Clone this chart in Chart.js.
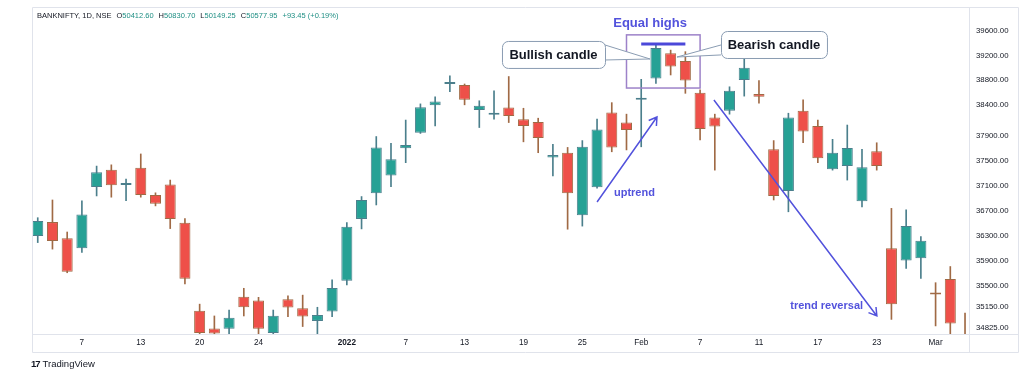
<!DOCTYPE html>
<html>
<head>
<meta charset="utf-8">
<script src="https://cdn.jsdelivr.net/npm/chart.js@4.4.1/dist/chart.umd.min.js"></script>
<style>
  html, body { margin: 0; padding: 0; background: #fff; }
  #wrap { position: relative; width: 1024px; height: 374px; }
  #header {
    position: absolute; left: 37px; top: 11px;
    font: 7.5px "Liberation Sans", Arial, sans-serif; color: #131722; white-space: nowrap;
  }
  #header span { margin-left: 5px; }
  #header b { font-weight: normal; color: #1f8f84; }
  #logo {
    position: absolute; left: 31px; top: 358px;
    font: 9.5px "Liberation Sans", Arial, sans-serif; color: #131722; white-space: nowrap;
  }
  #logo i { font-style: normal; font-weight: bold; letter-spacing: -1px; margin-right: 3px; }
</style>
</head>
<body>
<div id="wrap">
  <canvas id="grafico" width="1024" height="374"></canvas>
  <div id="header">BANKNIFTY, 1D, NSE<span>O<b>50412.60</b></span><span>H<b>50830.70</b></span><span>L<b>50149.25</b></span><span>C<b>50577.95</b></span><span><b>+93.45 (+0.19%)</b></span></div>
  <div id="logo"><i>17</i>TradingView</div>
</div>
<script>
// Velas diárias (dez/2021 a mar/2022)
const aberturas = [36295, 36520, 36260, 36100, 37085, 37360, 37115, 37395, 36955, 37125, 36510,
  35095, 34810, 34805, 35320, 35260, 34735, 35280, 35135, 34930, 35080, 35575, 36570, 36985, 37270,
  37705, 37955, 38400, 38740, 38725, 38320, 38245, 38360, 38175, 38130, 37560, 37635, 36630, 37080,
  38280, 38120, 38485, 38830, 39235, 39110, 38600, 38200, 38310, 38805, 38580, 37690, 37020, 38310,
  38065, 37370, 37420, 36855, 37660, 36100, 35900, 35940, 35370, 35605, 34655];
const maximas = [36590, 36875, 36360, 36860, 37420, 37440, 37210, 37615, 36990, 37195, 36575,
  35200, 35010, 35105, 35455, 35310, 35105, 35335, 35345, 35150, 35590, 36510, 36930, 37895, 37785,
  38160, 38420, 38535, 38870, 38740, 38470, 38630, 38860, 38350, 38190, 37770, 37720, 37830, 38175,
  38440, 38255, 38815, 39365, 39285, 39260, 38645, 38255, 38695, 39190, 38795, 37830, 38270, 38485,
  38160, 37850, 38080, 37690, 37795, 36740, 36715, 36285, 35545, 35805, 35055];
const minimas = [36190, 36085, 35705, 36030, 36940, 36920, 36865, 36920, 36780, 36415, 35525,
  34690, 34690, 34720, 35010, 34710, 34690, 35000, 34840, 34700, 35000, 35510, 36410, 36795, 37090,
  37475, 37945, 38065, 38615, 38405, 38040, 38175, 38120, 37810, 37635, 37260, 36405, 36455, 37065,
  37650, 37680, 37730, 38750, 38885, 38590, 37840, 37355, 38255, 38545, 38430, 36875, 36685, 37795,
  37475, 37355, 37195, 36765, 37355, 34955, 35775, 35615, 34850, 34700, 34550];
const fechamentos = [36535, 36215, 35720, 36640, 37320, 37110, 37145, 36955, 36815, 36570, 35610,
  34735, 34730, 34980, 35150, 34805, 35015, 35145, 35000, 35025, 35460, 36445, 36875, 37720, 37530,
  37760, 38365, 38460, 38755, 38485, 38390, 38260, 38225, 38065, 37870, 37600, 36985, 37730, 38010,
  37720, 38000, 38520, 39320, 39020, 38795, 38015, 38055, 38630, 39000, 38535, 36940, 38200, 37975,
  37545, 37635, 37710, 37400, 37420, 35200, 36455, 36220, 35355, 34890, 34590];

// Rótulos do eixo X (posição = índice da vela)
const posRotulosX = [3, 7, 11, 15, 21, 25, 29, 33, 37, 41, 45, 49, 53, 57, 61];
const rotulosX = ['7', '13', '20', '24', '2022', '7', '13', '19', '25', 'Feb', '7', '11', '17', '23', 'Mar'];
// Rótulos do eixo de preço
const valoresY = [40000, 39600, 39200, 38800, 38400, 37900, 37500, 37100, 36700, 36300, 35900, 35500, 35150, 34825];

const corAlta = '#26a195', bordaAlta = '#4b7f8c';
const corBaixa = '#ee5049', bordaBaixa = '#a06a45';
const corNota = '#5252dc';
const fonte = '"Liberation Sans", Arial, sans-serif';

const indices = aberturas.map((_, i) => i);
const subiu = i => fechamentos[i] >= aberturas[i];

// Desenha setas, caixas e balões de texto (ancorados nas escalas)
const anotacoes = {
  id: 'anotacoes',
  afterDatasetsDraw(chart) {
    const { ctx } = chart;
    const sx = chart.scales.x, sy = chart.scales.y;
    const px = i => sx.getPixelForValue(i);
    const py = v => sy.getPixelForValue(v);

    ctx.save();

    // caixa das máximas iguais
    ctx.strokeStyle = '#9d82c9';
    ctx.lineWidth = 1.5;
    ctx.strokeRect(px(40), py(39530), px(45) - px(40), py(38675) - py(39530));

    // linha das máximas iguais
    ctx.strokeStyle = '#4b48d9';
    ctx.lineWidth = 3;
    ctx.beginPath();
    ctx.moveTo(px(41), py(39385));
    ctx.lineTo(px(44), py(39385));
    ctx.stroke();

    ctx.fillStyle = corNota;
    ctx.font = 'bold 13px ' + fonte;
    ctx.textAlign = 'center';
    ctx.textBaseline = 'middle';
    ctx.fillText('Equal highs', px(41.6), py(39720));

    // setas
    seta(ctx, px(38.0), py(36843), px(42.07), py(38210));
    seta(ctx, px(45.94), py(38483), px(57.01), py(35010));

    ctx.fillStyle = corNota;
    ctx.font = 'bold 11px ' + fonte;
    ctx.textAlign = 'left';
    ctx.fillText('uptrend', px(39.15), py(36988));
    ctx.textAlign = 'center';
    ctx.fillText('trend reversal', px(53.6), py(35175));

    // balões
    balao(ctx, 'Bullish candle', px(31.54), py(39432), px(38.54), py(38998),
      [px(38.54), py(39367)], [px(41.6), py(39142)], [px(38.54), py(39126)]);
    balao(ctx, 'Bearish candle', px(46.42), py(39592), px(53.62), py(39158),
      [px(46.42), py(39367)], [px(43.43), py(39174)], [px(46.42), py(39207)]);

    ctx.restore();
  },
  afterDraw(chart) {
    const { ctx, chartArea } = chart;
    const sx = chart.scales.x, sy = chart.scales.y;
    ctx.save();
    // corta o rótulo de cima como no original
    ctx.fillStyle = '#fff';
    ctx.fillRect(chartArea.right + 1, 0, chart.width - chartArea.right, chartArea.top);
    // moldura
    ctx.strokeStyle = '#e0e3eb';
    ctx.lineWidth = 1;
    ctx.beginPath();
    ctx.rect(chartArea.left + 0.5, chartArea.top + 0.5, sy.right - chartArea.left, sx.bottom - chartArea.top);
    ctx.moveTo(chartArea.left, chartArea.bottom + 0.5);
    ctx.lineTo(sy.right, chartArea.bottom + 0.5);
    ctx.moveTo(chartArea.right + 0.5, chartArea.top);
    ctx.lineTo(chartArea.right + 0.5, sx.bottom);
    ctx.stroke();
    ctx.restore();
  }
};

function seta(ctx, x0, y0, x1, y1) {
  const ang = Math.atan2(y0 - y1, x0 - x1);
  const tam = 9, abre = 0.55;
  ctx.strokeStyle = corNota;
  ctx.lineWidth = 1.5;
  ctx.beginPath();
  ctx.moveTo(x0, y0);
  ctx.lineTo(x1, y1);
  ctx.moveTo(x1 + tam * Math.cos(ang - abre), y1 + tam * Math.sin(ang - abre));
  ctx.lineTo(x1, y1);
  ctx.lineTo(x1 + tam * Math.cos(ang + abre), y1 + tam * Math.sin(ang + abre));
  ctx.stroke();
}

function balao(ctx, texto, x0, y0, x1, y1, a, ponta, b) {
  ctx.strokeStyle = '#8a9cb2';
  ctx.lineWidth = 1;
  ctx.fillStyle = '#fff';
  // rabicho
  ctx.beginPath();
  ctx.moveTo(a[0], a[1]);
  ctx.lineTo(ponta[0], ponta[1]);
  ctx.lineTo(b[0], b[1]);
  ctx.fill();
  ctx.stroke();
  // caixa
  ctx.beginPath();
  ctx.roundRect(x0 + 0.5, y0 + 0.5, x1 - x0, y1 - y0, 6);
  ctx.fill();
  ctx.stroke();
  ctx.fillStyle = '#131722';
  ctx.font = 'bold 13px ' + fonte;
  ctx.textAlign = 'center';
  ctx.textBaseline = 'middle';
  ctx.fillText(texto, (x0 + x1) / 2, (y0 + y1) / 2 + 1);
}

window.addEventListener('DOMContentLoaded', () => {
  new Chart(document.getElementById('grafico'), {
    type: 'bar',
    data: {
      datasets: [{
        // pavios
        data: indices.map(i => ({ x: i, y: [minimas[i], maximas[i]] })),
        backgroundColor: indices.map(i => subiu(i) ? bordaAlta : bordaBaixa),
        barThickness: 1,
        grouped: false,
        clip: 0,
        order: 2
      }, {
        // corpos
        data: indices.map(i => ({ x: i, y: [aberturas[i], fechamentos[i]] })),
        backgroundColor: indices.map(i => subiu(i) ? corAlta : corBaixa),
        borderColor: indices.map(i => subiu(i) ? bordaAlta : bordaBaixa),
        borderWidth: 1,
        borderSkipped: false,
        barPercentage: 0.75,
        categoryPercentage: 1,
        minBarLength: 2,
        grouped: false,
        clip: 0,
        order: 1
      }]
    },
    options: {
      responsive: false,
      animation: false,
      devicePixelRatio: 1,
      layout: { padding: { left: 32, top: 7, right: 6, bottom: 22 } },
      plugins: { legend: { display: false }, tooltip: { enabled: false } },
      scales: {
        x: {
          type: 'linear',
          offset: false,
          min: -0.39,
          max: 63.27,
          grid: { display: false, drawTicks: false },
          border: { display: false },
          afterBuildTicks: s => { s.ticks = posRotulosX.map(v => ({ value: v })); },
          afterFit: s => { s.height = 18; s.paddingLeft = 0; s.paddingRight = 0; },
          ticks: {
            autoSkip: false,
            maxRotation: 0,
            padding: 4,
            color: '#131722',
            font: c => ({ family: fonte, size: 8.2, weight: rotulosX[c.index] === '2022' ? 'bold' : 'normal' }),
            callback: (v, i) => rotulosX[i]
          }
        },
        y: {
          position: 'right',
          min: 34720,
          max: 39978,
          grid: { display: false, drawTicks: false },
          border: { display: false },
          afterBuildTicks: s => { s.ticks = valoresY.map(v => ({ value: v })); },
          afterFit: s => { s.width = 49; s.paddingTop = 0; s.paddingBottom = 0; },
          ticks: {
            autoSkip: false,
            padding: 7,
            color: '#131722',
            font: { family: fonte, size: 7.8 },
            callback: v => Number(v).toFixed(2)
          }
        }
      }
    },
    plugins: [anotacoes]
  });
});
</script>
</body>
</html>
